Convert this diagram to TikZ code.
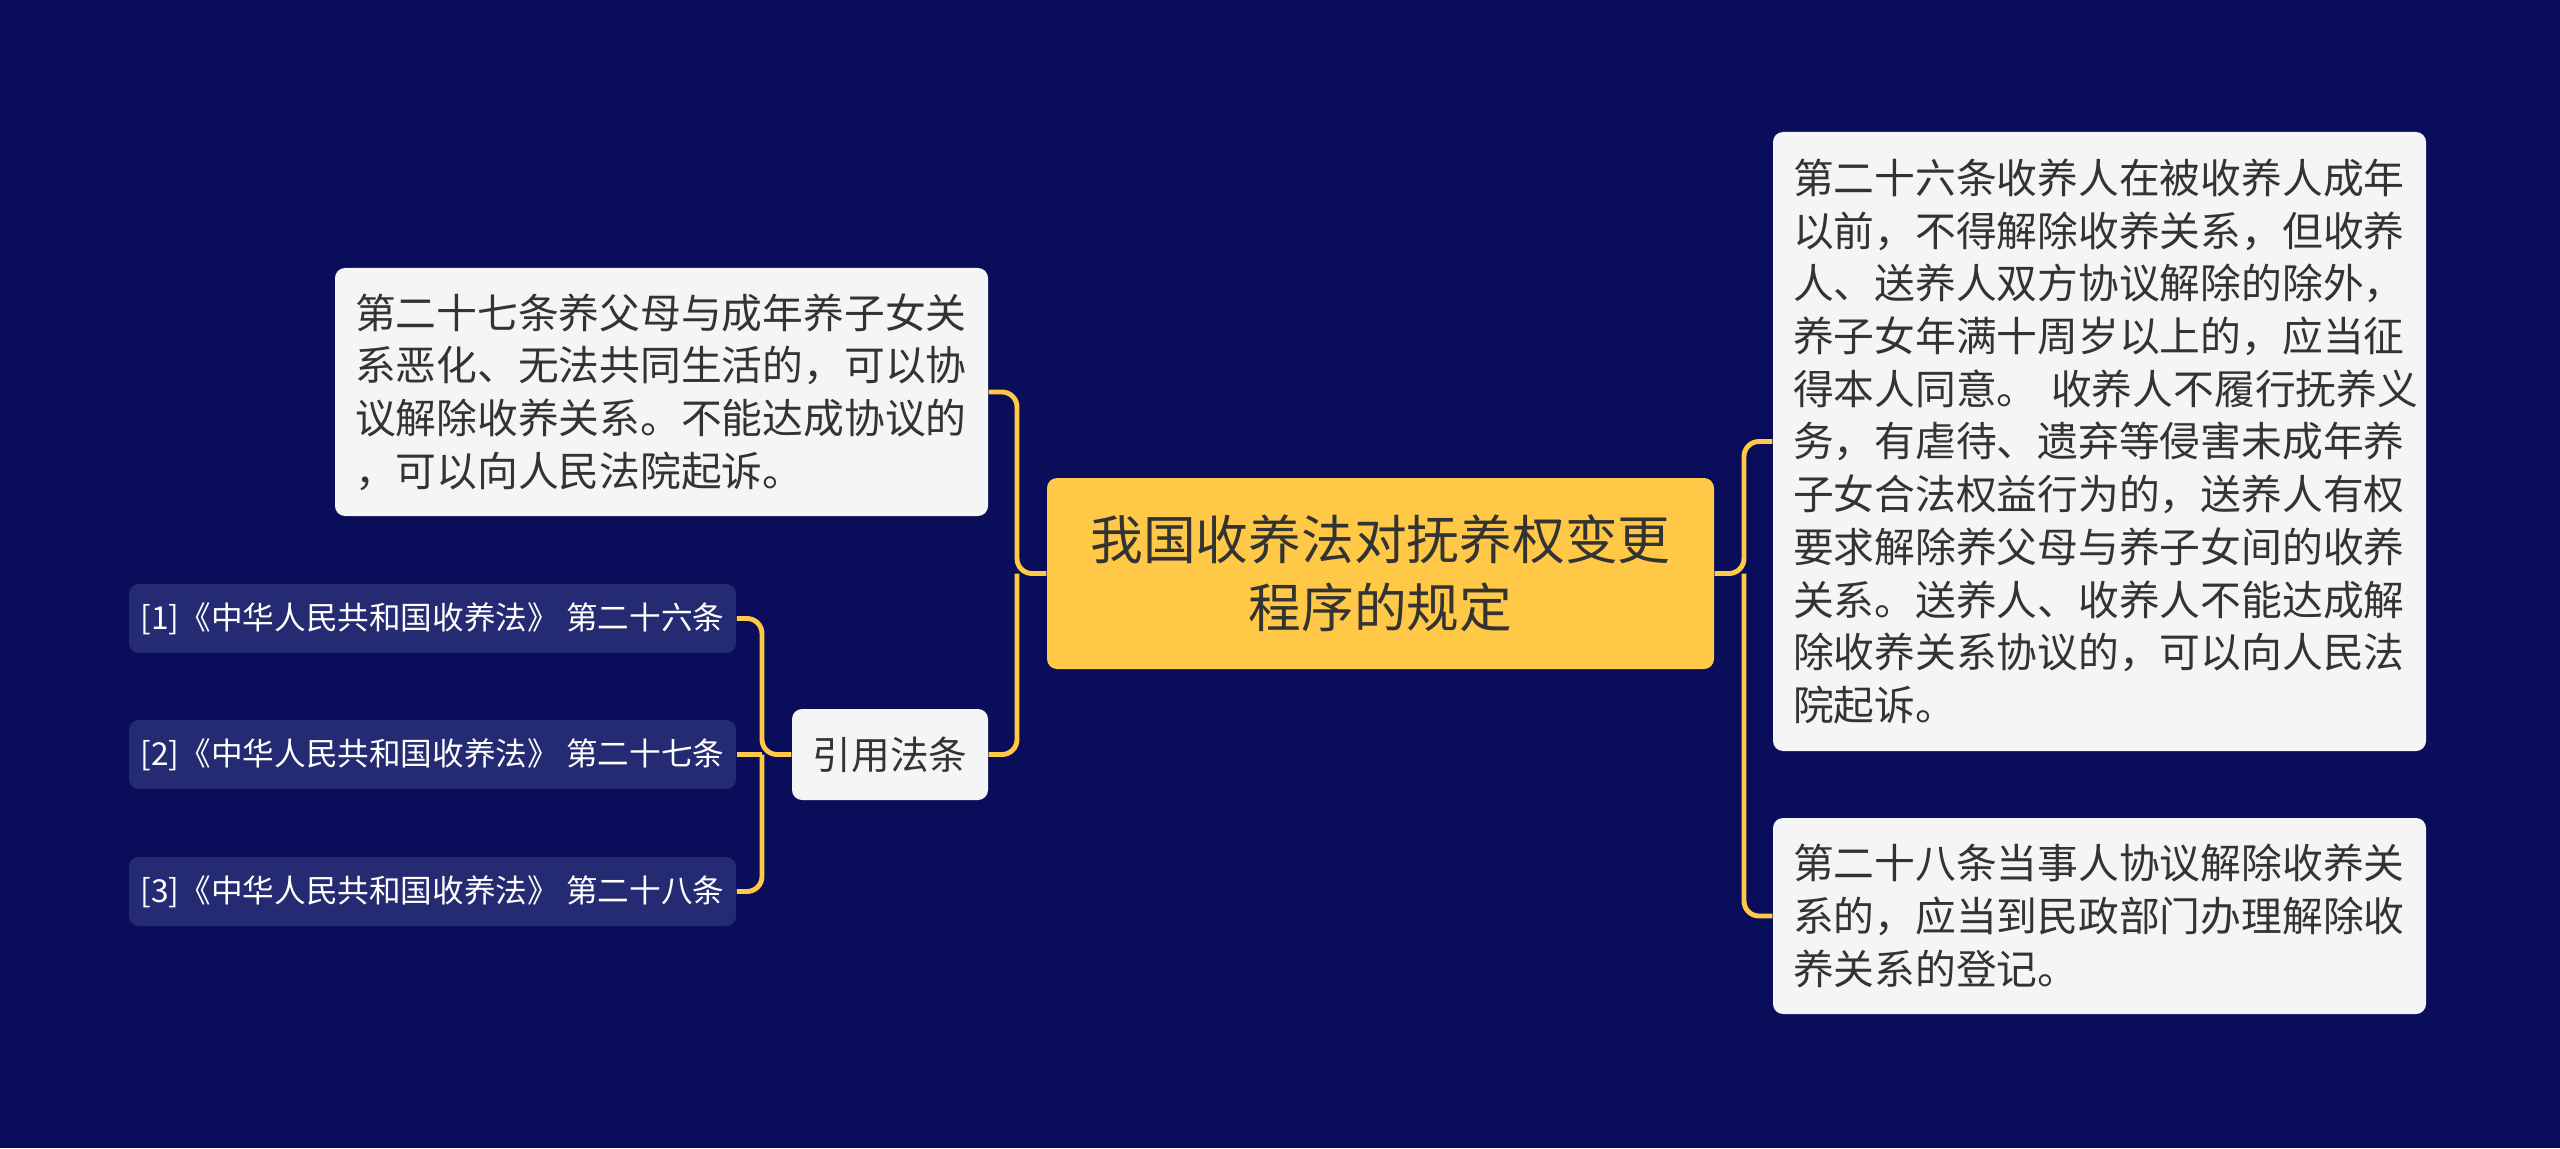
\documentclass[tikz,border=0pt]{standalone}
\usepackage{fontspec}
\setmainfont{Noto Sans CJK SC}
\usepackage{tikz}
\usetikzlibrary{calc,positioning}
\definecolor{navy}{RGB}{10,14,90}
\definecolor{refblue}{RGB}{37,43,115}
\definecolor{gold}{RGB}{255,200,71}
\definecolor{ink}{RGB}{51,51,51}
\definecolor{paper}{RGB}{245,245,245}
\tikzset{
  root/.style={fill=gold, rounded corners=0.1cm, text=ink, align=center,
    minimum width=6.67cm, minimum height=1.91cm, font=\fontsize{15}{19.5}\selectfont},
  leaf/.style={fill=paper, rounded corners=0.1cm, text=ink, align=left,
    text width=6.13cm, inner xsep=0.2cm, font=\fontsize{11.6}{15}\selectfont},
  cite/.style={fill=paper, rounded corners=0.1cm, text=ink,
    minimum width=1.96cm, minimum height=0.91cm, font=\fontsize{11}{13}\selectfont},
  ref/.style={fill=refblue, rounded corners=0.1cm, text=white,
    minimum width=6.01cm, minimum height=0.69cm, font=\fontsize{9}{11}\selectfont},
  link/.style={draw=gold, line width=1.4pt, rounded corners=0.15cm}
}
\begin{document}
\begin{tikzpicture}
  % Background
  \fill[navy] (0,0) rectangle (25.6,11.48);
  \useasboundingbox (0,0) rectangle (25.6,11.48);
  % Centre topic
  \node[root] (law) at (13.805,5.745) {我国收养法对抚养权变更\\程序的规定};
  % Left branch
  \node[leaf, minimum height=2.48cm] (art27) at (6.615,7.56)
    {第二十七条养父母与成年养子女关\\系恶化、无法共同生活的，可以协\\议解除收养关系。不能达成协议的\\，可以向人民法院起诉。};
  \node[cite] (cites) at (8.90,3.935) {引用法条};
  \node[ref] (ref1) at (4.325,5.295) {[1]《中华人民共和国收养法》 第二十六条};
  \node[ref] (ref2) at (4.325,3.935) {[2]《中华人民共和国收养法》 第二十七条};
  \node[ref] (ref3) at (4.325,2.565) {[3]《中华人民共和国收养法》 第二十八条};
  % Right branch
  \node[leaf, minimum height=6.19cm] (art26) at (20.995,7.065)
    {第二十六条收养人在被收养人成年\\以前，不得解除收养关系，但收养\\人、送养人双方协议解除的除外，\\养子女年满十周岁以上的，应当征\\\mbox{得本人同意。 收养人不履行抚养义}\\务，有虐待、遗弃等侵害未成年养\\子女合法权益行为的，送养人有权\\要求解除养父母与养子女间的收养\\关系。送养人、收养人不能达成解\\除收养关系协议的，可以向人民法\\院起诉。};
  \node[leaf, minimum height=1.96cm] (art28) at (20.995,2.32)
    {第二十八条当事人协议解除收养关\\系的，应当到民政部门办理解除收\\养关系的登记。};
  % Junctions
  \coordinate (jl) at (10.17,5.745);
  \coordinate (jr) at (17.44,5.745);
  \coordinate (jc) at (7.62,3.935);
  % Connectors
  \draw[link] (law.west) -- (jl) |- (art27.east);
  \draw[link] (jl) |- (cites.east);
  \draw[link] (law.east) -- (jr) |- (art26.west);
  \draw[link] (jr) |- (art28.west);
  \draw[link] (cites.west) -- (jc) |- (ref1.east);
  \draw[link] (jc) -- (ref2.east);
  \draw[link] (jc) |- (ref3.east);
\end{tikzpicture}
\end{document}
